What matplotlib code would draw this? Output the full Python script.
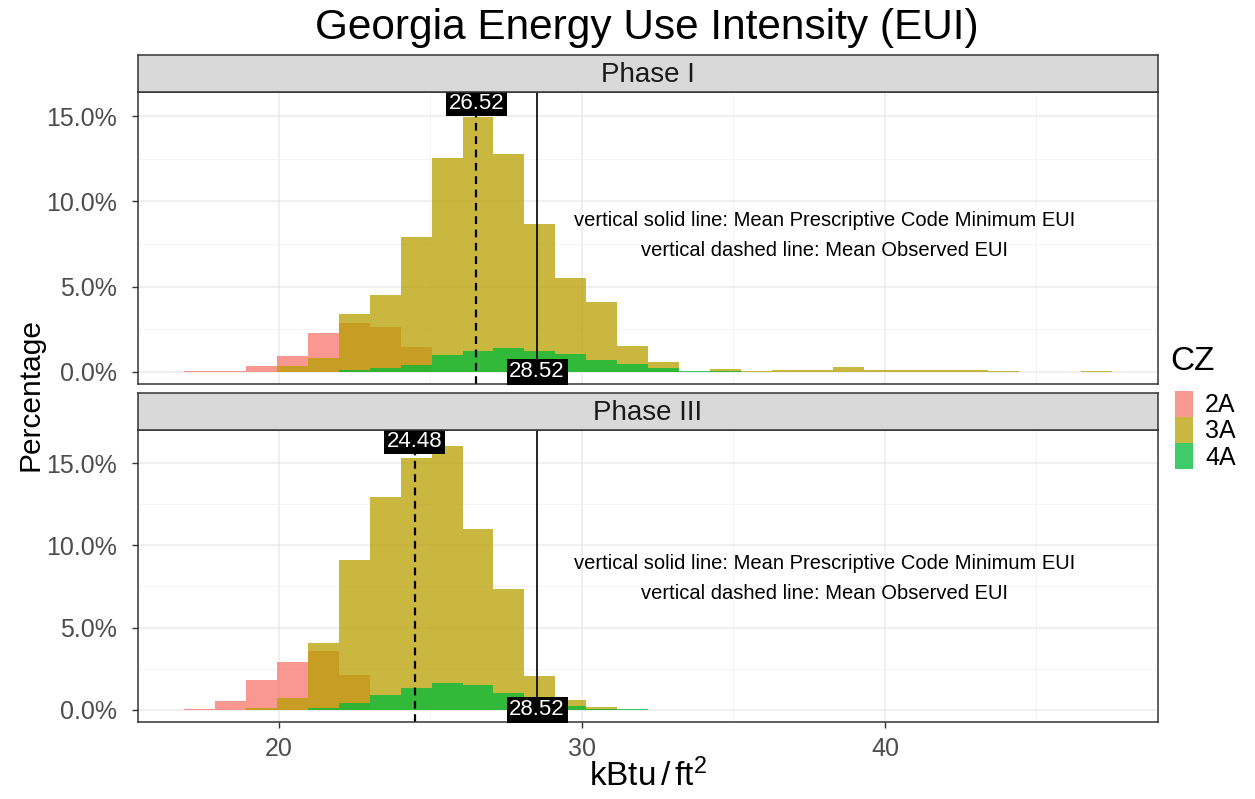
import matplotlib
matplotlib.use("Agg")
import matplotlib.pyplot as plt
from matplotlib.patches import Patch
from matplotlib.ticker import MultipleLocator, FuncFormatter
import numpy as np

plt.rcParams['font.family'] = ['Liberation Sans', 'DejaVu Sans']
plt.rcParams['mathtext.fontset'] = 'custom'
plt.rcParams['mathtext.rm'] = 'Liberation Sans'
plt.rcParams['mathtext.it'] = 'Liberation Sans:italic'

# 30 histogram bins shared by both facets
bin_start = 16.88
bin_width = 1.02
n_bins = 30

phases = ['Phase I', 'Phase III']
zones = ['2A', '3A', '4A']
zone_colors = ['#F8766D', '#B79F00', '#00BA38']

# percentage of buildings per bin
phase1_2A = [0.03, 0.08, 0.35, 0.93, 2.30, 2.88, 2.62, 1.45, 0, 0,
             0, 0, 0, 0, 0, 0, 0, 0, 0, 0,
             0, 0, 0, 0, 0, 0, 0, 0, 0, 0]
phase1_3A = [0, 0, 0, 0.35, 0.84, 3.40, 4.52, 7.91, 12.56, 14.94,
             12.81, 8.65, 5.49, 4.09, 1.51, 0.60, 0, 0.20, 0.05, 0.10,
             0.10, 0.28, 0.10, 0.10, 0.10, 0.10, 0.05, 0, 0, 0.05]
phase1_4A = [0, 0, 0, 0, 0, 0.10, 0.25, 0.39, 0.99, 1.22,
             1.38, 1.22, 1.05, 0.70, 0.45, 0.25, 0.08, 0.05, 0, 0,
             0, 0, 0, 0, 0, 0, 0, 0, 0, 0]

phase3_2A = [0.07, 0.52, 1.79, 2.90, 3.56, 2.14, 0, 0, 0, 0,
             0, 0, 0, 0, 0, 0, 0, 0, 0, 0,
             0, 0, 0, 0, 0, 0, 0, 0, 0, 0]
phase3_3A = [0, 0, 0.10, 0.72, 4.06, 9.13, 12.94, 15.30, 16.05, 10.99,
             7.33, 2.06, 0.58, 0.17, 0, 0, 0, 0, 0, 0,
             0, 0, 0, 0, 0, 0, 0, 0, 0, 0]
phase3_4A = [0, 0, 0, 0, 0.10, 0.39, 0.93, 1.34, 1.63, 1.49,
             1.02, 0.55, 0.21, 0.05, 0.03, 0, 0, 0, 0, 0,
             0, 0, 0, 0, 0, 0, 0, 0, 0, 0]

data = {'Phase I': [phase1_2A, phase1_3A, phase1_4A],
        'Phase III': [phase3_2A, phase3_3A, phase3_4A]}

mean_observed = [26.52, 24.48]
mean_code_min = [28.52, 28.52]
label_top = [15.76, 16.32]

note = ('vertical solid line: Mean Prescriptive Code Minimum EUI\n'
        'vertical dashed line: Mean Observed EUI')

W, H = 1255, 799
fig = plt.figure(figsize=(W / 100, H / 100), dpi=100)

edges = bin_start + bin_width * np.arange(n_bins + 1)
xlo = edges[0] - 0.05 * (edges[-1] - edges[0])
xhi = edges[-1] + 0.05 * (edges[-1] - edges[0])

panel_tops = [92, 430]
panel_h = 292
left, width = 138, 1020

for i, phase in enumerate(phases):
    top = panel_tops[i]
    ax = fig.add_axes([left / W, 1 - (top + panel_h) / H, width / W, panel_h / H])
    strip = fig.add_axes([left / W, 1 - top / H, width / W, 37 / H])

    # strip (facet label)
    strip.set_facecolor('#D9D9D9')
    strip.set_xticks([])
    strip.set_yticks([])
    for s in strip.spines.values():
        s.set_color('#333333')
        s.set_linewidth(1.1)
    strip.text(0.5, 0.45, phase, ha='center', va='center', fontsize=20,
               color='#1A1A1A', transform=strip.transAxes)

    # overlapping histograms
    for vals, col in zip(data[phase], zone_colors):
        ax.bar(edges[:-1], vals, width=bin_width, align='edge',
               color=col, alpha=0.75, linewidth=0)

    ax.axvline(mean_observed[i], color='black', lw=1.6, ls=(0, (3.5, 2.5)))
    ax.axvline(mean_code_min[i], color='black', lw=1.2)

    lab = dict(color='white', ha='center', va='center', fontsize=16,
               bbox=dict(boxstyle='square,pad=0.12', fc='black', ec='none'))
    ax.text(mean_observed[i], label_top[i], f'{mean_observed[i]:.2f}', **lab)
    ax.text(mean_code_min[i], 0, f'{mean_code_min[i]:.2f}', **lab)

    ax.text(38, 8, note, ha='center', va='center', fontsize=14.5,
            linespacing=1.75, color='black')

    ax.set_xlim(xlo, xhi)
    ax.set_ylim(-0.045 * label_top[i], 1.042 * label_top[i])

    ax.xaxis.set_major_locator(MultipleLocator(10))
    ax.xaxis.set_minor_locator(MultipleLocator(5))
    ax.yaxis.set_major_locator(MultipleLocator(5))
    ax.yaxis.set_minor_locator(MultipleLocator(2.5))
    ax.yaxis.set_major_formatter(FuncFormatter(lambda v, p: f'{v:.1f}%'))

    ax.grid(which='major', color='#EBEBEB', lw=1.1)
    ax.grid(which='minor', color='#F2F2F2', lw=0.6)
    ax.set_axisbelow(True)
    ax.tick_params(which='minor', length=0)
    ax.tick_params(which='major', length=4, width=1, color='#333333',
                   labelcolor='#4D4D4D', labelsize=18)
    ax.tick_params(axis='y', pad=11)
    ax.tick_params(axis='x', pad=7)
    if i == 0:
        ax.tick_params(axis='x', which='both', length=0, labelbottom=False)
    for s in ax.spines.values():
        s.set_color('#333333')
        s.set_linewidth(1.1)

fig.text(647 / W, 1 - 28 / H, 'Georgia Energy Use Intensity (EUI)',
         ha='center', va='center', fontsize=30.5)
fig.text(31 / W, 1 - 394 / H, 'Percentage', rotation=90,
         ha='center', va='center', fontsize=21.5)
fig.text(648 / W, 1 - 776 / H, r'$\mathrm{kBtu}\,/\,\mathrm{ft}^2$',
         ha='center', va='center', fontsize=24)

# legend: title as separate text, keys stacked without gaps
fig.text(1170 / W, 1 - 362 / H, 'CZ', ha='left', va='center', fontsize=24)
handles = [Patch(facecolor=c, alpha=0.75, edgecolor='none') for c in zone_colors]
fig.legend(handles, zones, loc='upper left', bbox_to_anchor=(1175 / W, 1 - 391 / H),
           frameon=False, fontsize=18,
           handlelength=0.7, handleheight=1.2, labelspacing=0,
           handletextpad=0.5, borderpad=0, borderaxespad=0)

fig.savefig('out.png', dpi=100)
